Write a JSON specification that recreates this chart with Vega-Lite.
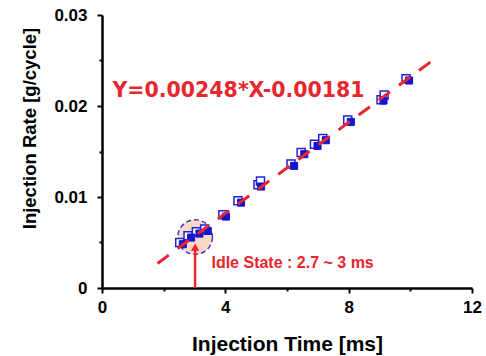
{
  "$schema": "https://vega.github.io/schema/vega-lite/v6.json",
  "width": 370,
  "height": 273,
  "autosize": "none",
  "padding": {"left": 102, "top": 15, "right": 14, "bottom": 68},
  "background": "white",
  "config": {"view": {"stroke": null}, "axis": {"grid": false}},
  "datasets": {
    "pts": [
      {"x": 2.52, "y": 0.00501, "kind": "open"}, {"x": 2.62, "y": 0.00481, "kind": "filled"},
      {"x": 2.79, "y": 0.00574, "kind": "open"}, {"x": 2.89, "y": 0.00554, "kind": "filled"},
      {"x": 3.06, "y": 0.00618, "kind": "open"}, {"x": 3.16, "y": 0.00598, "kind": "filled"},
      {"x": 3.33, "y": 0.00647, "kind": "open"}, {"x": 3.43, "y": 0.00627, "kind": "filled"},
      {"x": 3.92, "y": 0.00805, "kind": "open"}, {"x": 4.02, "y": 0.00785, "kind": "filled"},
      {"x": 4.41, "y": 0.00958, "kind": "open"}, {"x": 4.51, "y": 0.00938, "kind": "filled"},
      {"x": 5.06, "y": 0.01135, "kind": "open"}, {"x": 5.14, "y": 0.01175, "kind": "open"}, {"x": 5.16, "y": 0.01115, "kind": "filled"},
      {"x": 6.13, "y": 0.01362, "kind": "open"}, {"x": 6.23, "y": 0.01342, "kind": "filled"},
      {"x": 6.46, "y": 0.0149, "kind": "open"}, {"x": 6.56, "y": 0.0147, "kind": "filled"},
      {"x": 6.89, "y": 0.01581, "kind": "open"}, {"x": 6.99, "y": 0.01561, "kind": "filled"},
      {"x": 7.16, "y": 0.01644, "kind": "open"}, {"x": 7.26, "y": 0.01624, "kind": "filled"},
      {"x": 7.97, "y": 0.01845, "kind": "open"}, {"x": 8.07, "y": 0.01825, "kind": "filled"},
      {"x": 9.05, "y": 0.0207, "kind": "open"}, {"x": 9.15, "y": 0.0212, "kind": "open"}, {"x": 9.13, "y": 0.0206, "kind": "filled"},
      {"x": 9.86, "y": 0.0230, "kind": "open"}, {"x": 9.96, "y": 0.0228, "kind": "filled"}
    ],
    "fit": [{"x": 1.8, "y": 0.0027}, {"x": 10.72, "y": 0.0250}],
    "circle": [{"x": 3.02, "y": 0.0056}],
    "arrow": [{"x": 3.02, "y": 0, "y2": 0.0043, "tip": 0.0045}],
    "eq": [{"x": 0.34, "y": 0.0210, "label": "Y=0.00248*X-0.00181"}],
    "idle": [{"x": 3.55, "y": 0.00275, "label": "Idle State : 2.7 ~ 3 ms"}]
  },
  "encoding": {
    "x": {
      "field": "x", "type": "quantitative",
      "scale": {"domain": [0, 12], "nice": false, "zero": true},
      "axis": {
        "title": "Injection Time [ms]",
        "values": [0, 2, 4, 6, 8, 10, 12],
        "format": "d",
        "labelExpr": "datum.value % 4 === 0 ? datum.label : ''",
        "domainColor": "black", "domainWidth": 2.5,
        "tickColor": "black", "tickWidth": 2,
        "tickSize": {"condition": {"test": "datum.value % 4 === 0", "value": 5}, "value": 3},
        "labelFont": "Liberation Sans", "labelFontWeight": "bold", "labelFontSize": 17, "labelColor": "black",
        "labelPadding": 6, "labelFlush": false,
        "titleFont": "Liberation Sans", "titleFontWeight": "bold", "titleFontSize": 21, "titleColor": "black",
        "titleY": 45
      }
    },
    "y": {
      "field": "y", "type": "quantitative",
      "scale": {"domain": [0, 0.03], "nice": false, "zero": true},
      "axis": {
        "title": "Injection Rate [g/cycle]",
        "values": [0, 0.005, 0.01, 0.015, 0.02, 0.025, 0.03],
        "format": ".2~f",
        "labelExpr": "abs(datum.value*100 - round(datum.value*100)) < 1e-6 ? datum.label : ''",
        "domainColor": "black", "domainWidth": 2.5,
        "tickColor": "black", "tickWidth": 2,
        "tickSize": {"condition": {"test": "abs(datum.value*100 - round(datum.value*100)) < 1e-6", "value": 5}, "value": 3},
        "labelFont": "Liberation Sans", "labelFontWeight": "bold", "labelFontSize": 17, "labelColor": "black",
        "labelPadding": 10, "labelFlush": false,
        "titleFont": "Liberation Sans", "titleFontWeight": "bold", "titleFontSize": 18.5, "titleColor": "black",
        "titleX": -63, "titleY": 113
      }
    }
  },
  "layer": [
    {
      "data": {"name": "circle"},
      "mark": {"type": "point", "shape": "circle", "size": 1200, "filled": true, "fill": "#fbd8c4", "fillOpacity": 1, "stroke": "#3b3bd8", "strokeWidth": 1.5, "strokeDash": [5, 3], "strokeOpacity": 1}
    },
    {
      "data": {"name": "pts"},
      "transform": [{"filter": "datum.kind === 'open'"}],
      "mark": {"type": "point", "shape": "square", "size": 64, "filled": true, "fill": "white", "fillOpacity": 1, "stroke": "#2222d8", "strokeWidth": 1.5, "strokeOpacity": 1}
    },
    {
      "data": {"name": "pts"},
      "transform": [{"filter": "datum.kind === 'filled'"}],
      "mark": {"type": "point", "shape": "square", "size": 50, "filled": true, "fill": "#1414d0", "fillOpacity": 1, "stroke": "#1414d0", "strokeWidth": 1}
    },
    {
      "data": {"name": "fit"},
      "mark": {"type": "line", "color": "#e8262d", "strokeWidth": 3, "strokeDash": [14, 11]}
    },
    {
      "data": {"name": "arrow"},
      "mark": {"type": "rule", "color": "#e8262d", "strokeWidth": 2.5},
      "encoding": {"y2": {"field": "y2"}}
    },
    {
      "data": {"name": "arrow"},
      "mark": {"type": "point", "shape": "triangle-up", "size": 70, "filled": true, "color": "#e8262d", "opacity": 1},
      "encoding": {"y": {"field": "tip", "type": "quantitative"}}
    },
    {
      "data": {"name": "eq"},
      "mark": {"type": "text", "align": "left", "baseline": "alphabetic", "font": "DejaVu Sans", "fontWeight": "bold", "fontSize": 20.5, "color": "#e8262d"},
      "encoding": {"text": {"field": "label"}}
    },
    {
      "data": {"name": "idle"},
      "mark": {"type": "text", "align": "left", "baseline": "middle", "font": "Liberation Sans", "fontWeight": "bold", "fontSize": 16, "color": "#e8262d"},
      "encoding": {"text": {"field": "label"}}
    }
  ]
}
